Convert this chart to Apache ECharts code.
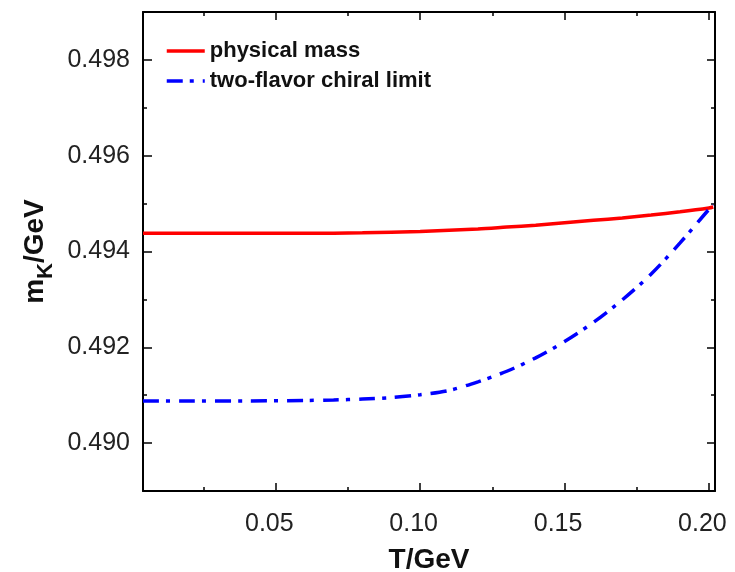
<!DOCTYPE html>
<html><head><meta charset="utf-8">
<script src="https://cdn.jsdelivr.net/npm/echarts@6/dist/echarts.min.js"></script>
<style>html,body{margin:0;padding:0;background:#fff}#c{width:735px;height:572px}</style>
</head><body><div id="c"></div><script>
// ---- data ----
const seriesNames = ['physical mass', 'two-flavor chiral limit'];
const redT = [0.004, 0.02, 0.04, 0.06, 0.08, 0.10, 0.12, 0.13, 0.14, 0.15, 0.16, 0.17, 0.18, 0.19, 0.20, 0.2015];
const redV = [0.49438, 0.49438, 0.49438, 0.49438, 0.49439, 0.49442, 0.49447, 0.49451, 0.49455, 0.49460, 0.49465, 0.49470, 0.49476, 0.49483, 0.49491, 0.49493];
const blueT = [0.004, 0.02, 0.04, 0.06, 0.07, 0.08, 0.09, 0.10, 0.11, 0.12, 0.13, 0.14, 0.15, 0.16, 0.17, 0.18, 0.19, 0.20, 0.2015];
const blueV = [0.49088, 0.49088, 0.49088, 0.49089, 0.49090, 0.49092, 0.49095, 0.49101, 0.49110, 0.49128, 0.49150, 0.49178, 0.49212, 0.49252, 0.49299, 0.49353, 0.49418, 0.49488, 0.49497];
const xMajorTicks = [0.05, 0.10, 0.15, 0.20];
const xMinorTicks = [0.025, 0.075, 0.125, 0.175];
const yMajorTicks = [0.490, 0.492, 0.494, 0.496, 0.498];
const yMinorTicks = [0.491, 0.493, 0.495, 0.497];
const xRange = [0.004, 0.2021];
const yRange = [0.489, 0.499];

const FONT = '"Liberation Sans", Arial, sans-serif';
const zip = (a, b) => a.map((v, i) => [v, b[i]]);

function xAx(pos, ticks, len, showLabel, showLine, extra) {
  return Object.assign({
    type: 'value', position: pos, min: xRange[0], max: xRange[1],
    axisLine: {show: showLine, onZero: false, lineStyle: {color: '#000', width: 2}},
    axisTick: {show: true, inside: true, length: len, customValues: ticks, lineStyle: {color: '#000', width: 1.5}},
    axisLabel: {show: showLabel, customValues: ticks, formatter: v => v.toFixed(2), fontFamily: FONT, fontSize: 25, color: '#222', margin: 21, padding: [0, 13, 0, 0]},
    splitLine: {show: false}
  }, extra || {});
}
function yAx(pos, ticks, len, showLabel, showLine, extra) {
  return Object.assign({
    type: 'value', position: pos, min: yRange[0], max: yRange[1],
    axisLine: {show: showLine, onZero: false, lineStyle: {color: '#000', width: 2}},
    axisTick: {show: true, inside: true, length: len, customValues: ticks, lineStyle: {color: '#000', width: 1.5}},
    axisLabel: {show: showLabel, customValues: ticks, formatter: v => v.toFixed(3), fontFamily: FONT, fontSize: 25, color: '#222', margin: 13},
    splitLine: {show: false}
  }, extra || {});
}

const chart = echarts.init(document.getElementById('c'), null, {renderer: 'canvas'});
chart.setOption({
  animation: false,
  backgroundColor: '#fff',
  grid: {left: 143, right: 20, top: 12, bottom: 81, containLabel: false, outerBoundsMode: 'none'},
  legend: {
    orient: 'vertical', left: 160, top: 35, itemWidth: 38, itemHeight: 14, itemGap: 8,
    itemStyle: {opacity: 0},
    lineStyle: {width: 3.5},
    textStyle: {fontFamily: FONT, fontSize: 22, fontWeight: 'bold', color: '#111'},
    data: seriesNames
  },
  xAxis: [
    xAx('bottom', xMajorTicks, 8, true, true, {
      name: 'T/GeV', nameLocation: 'middle', nameGap: 55,
      nameTextStyle: {fontFamily: FONT, fontSize: 28, fontWeight: 'bold', color: '#111'}
    }),
    xAx('bottom', xMinorTicks, 4, false, false),
    xAx('top', xMajorTicks, 8, false, true),
    xAx('top', xMinorTicks, 4, false, false)
  ],
  yAxis: [
    yAx('left', yMajorTicks, 9, true, true, {
      name: '{m|m}{s|K}{m|/GeV}', nameLocation: 'middle', nameGap: 86, nameRotate: 90,
      nameTextStyle: {
        rich: {
          m: {fontFamily: FONT, fontSize: 28, fontWeight: 'bold', color: '#111', lineHeight: 42},
          s: {fontFamily: FONT, fontSize: 22, fontWeight: 'bold', color: '#111', lineHeight: 20, verticalAlign: 'bottom'}
        }
      }
    }),
    yAx('left', yMinorTicks, 4, false, false),
    yAx('right', yMajorTicks, 8, false, true),
    yAx('right', yMinorTicks, 4, false, false)
  ],
  series: [
    {
      name: seriesNames[0], type: 'line', xAxisIndex: 0, yAxisIndex: 0,
      data: zip(redT, redV), showSymbol: false, symbol: 'none', smooth: 0.3,
      color: '#ff0000', lineStyle: {color: '#ff0000', width: 3.5}
    },
    {
      name: seriesNames[1], type: 'line', xAxisIndex: 0, yAxisIndex: 0,
      data: zip(blueT, blueV), showSymbol: false, symbol: 'none', smooth: 0.3,
      color: '#0000ff', lineStyle: {color: '#0000ff', width: 3.5, type: [16, 7, 4, 9]}
    }
  ]
});
</script></body></html>
